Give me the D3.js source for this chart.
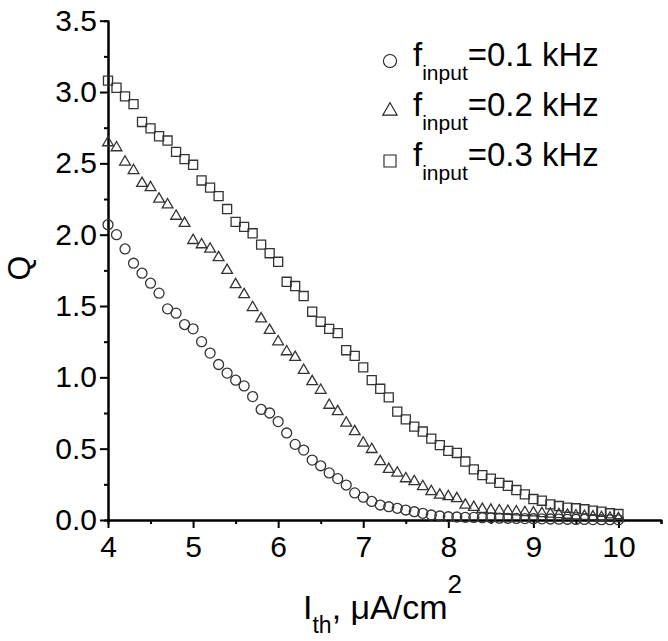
<!DOCTYPE html>
<html>
<head>
<meta charset="utf-8">
<script src="https://cdn.jsdelivr.net/npm/d3@7"></script>
<style>
  body { margin: 0; background: #fff; }
  text { font-family: "Liberation Sans", Arial, sans-serif; fill: #000; }
</style>
</head>
<body>
<svg width="668" height="641"></svg>
<script>
var svg = d3.select('svg');

// threshold current, uA/cm^2
var ith = [4.0, 4.1, 4.2, 4.3, 4.4, 4.5, 4.6, 4.7, 4.8, 4.9,
           5.0, 5.1, 5.2, 5.3, 5.4, 5.5, 5.6, 5.7, 5.8, 5.9,
           6.0, 6.1, 6.2, 6.3, 6.4, 6.5, 6.6, 6.7, 6.8, 6.9,
           7.0, 7.1, 7.2, 7.3, 7.4, 7.5, 7.6, 7.7, 7.8, 7.9,
           8.0, 8.1, 8.2, 8.3, 8.4, 8.5, 8.6, 8.7, 8.8, 8.9,
           9.0, 9.1, 9.2, 9.3, 9.4, 9.5, 9.6, 9.7, 9.8, 9.9, 10.0];

var q01 = [2.07, 2.00, 1.90, 1.80, 1.73, 1.66, 1.59, 1.48, 1.45, 1.37,
           1.34, 1.25, 1.17, 1.09, 1.03, 0.98, 0.94, 0.865, 0.775, 0.75,
           0.69, 0.61, 0.53, 0.49, 0.42, 0.38, 0.33, 0.29, 0.245, 0.19,
           0.16, 0.13, 0.105, 0.093, 0.082, 0.07, 0.058, 0.047, 0.035, 0.028,
           0.023, 0.021, 0.019, 0.018, 0.016, 0.015, 0.013, 0.012, 0.011, 0.010,
           0.009, 0.008, 0.007, 0.006, 0.005, 0.004, 0.004, 0.003, 0.002, 0.002, 0.001];

var q02 = [2.645, 2.61, 2.51, 2.45, 2.36, 2.33, 2.25, 2.21, 2.13, 2.08,
           1.96, 1.93, 1.90, 1.84, 1.75, 1.65, 1.58, 1.49, 1.41, 1.33,
           1.25, 1.18, 1.14, 1.05, 0.97, 0.91, 0.805, 0.76, 0.68, 0.62,
           0.54, 0.495, 0.41, 0.355, 0.33, 0.29, 0.27, 0.235, 0.20, 0.175,
           0.165, 0.15, 0.105, 0.089, 0.075, 0.07, 0.065, 0.062, 0.058, 0.053,
           0.05, 0.046, 0.042, 0.038, 0.034, 0.03, 0.026, 0.022, 0.018, 0.014, 0.01];

var q03 = [3.08, 3.03, 2.97, 2.915, 2.79, 2.745, 2.69, 2.66, 2.58, 2.53,
           2.49, 2.38, 2.33, 2.27, 2.18, 2.09, 2.055, 2.01, 1.93, 1.87,
           1.81, 1.67, 1.64, 1.57, 1.46, 1.39, 1.34, 1.31, 1.19, 1.15,
           1.07, 0.98, 0.92, 0.86, 0.76, 0.705, 0.655, 0.62, 0.57, 0.525,
           0.485, 0.47, 0.41, 0.355, 0.315, 0.29, 0.26, 0.24, 0.21, 0.18,
           0.147, 0.135, 0.11, 0.098, 0.086, 0.082, 0.075, 0.065, 0.058, 0.047, 0.042];

var legendLabels = ['=0.1 kHz', '=0.2 kHz', '=0.3 kHz'];
var xTicks = [4, 5, 6, 7, 8, 9, 10];
var yTicks = [0, 0.5, 1.0, 1.5, 2.0, 2.5, 3.0, 3.5];

var x = d3.scaleLinear().domain([4, 10.5]).range([108, 661]);
var y = d3.scaleLinear().domain([0, 3.5]).range([520, 20.7]);

var series = [
  {values: q01, type: d3.symbolCircle, size: 78, lsize: 135},
  {values: q02, type: d3.symbolTriangle, size: 50, lsize: 90},
  {values: q03, type: d3.symbolSquare, size: 82, lsize: 145}
];

// minor ticks
svg.append('g')
  .attr('transform', 'translate(0,520)')
  .call(d3.axisBottom(x).tickValues([4.5, 5.5, 6.5, 7.5, 8.5, 9.5, 10.5]).tickSize(4).tickFormat(''));
svg.append('g')
  .attr('transform', 'translate(108,0)')
  .call(d3.axisLeft(y).tickValues([0.25, 0.75, 1.25, 1.75, 2.25, 2.75, 3.25]).tickSize(4).tickFormat(''));

// major ticks
var xAxis = svg.append('g')
  .attr('transform', 'translate(0,520)')
  .call(d3.axisBottom(x).tickValues(xTicks).tickSize(8).tickSizeOuter(0).tickPadding(8)
    .tickFormat(d3.format('d')));
var yAxis = svg.append('g')
  .attr('transform', 'translate(108,0)')
  .call(d3.axisLeft(y).tickValues(yTicks).tickSize(8).tickSizeOuter(0).tickPadding(3)
    .tickFormat(d3.format('.1f')));

svg.selectAll('.domain').attr('stroke', '#000').attr('stroke-width', 2);
svg.selectAll('.tick line').attr('stroke', '#000').attr('stroke-width', 2);
xAxis.selectAll('text').attr('font-size', 30).attr('font-family', '"Liberation Sans", Arial, sans-serif');
yAxis.selectAll('text').attr('font-size', 30).attr('font-family', '"Liberation Sans", Arial, sans-serif');

// markers
series.forEach(function(s) {
  svg.append('g').selectAll('path')
    .data(s.values)
    .enter()
    .append('path')
    .attr('d', d3.symbol().type(s.type).size(s.size))
    .attr('transform', function(d, i) {
      return 'translate(' + x(ith[i]) + ',' + y(d) + ')';
    })
    .attr('fill', 'none')
    .attr('stroke', '#333')
    .attr('stroke-width', 1.3);
});

// legend
var legend = svg.append('g');
series.forEach(function(s, i) {
  var by = 66 + i * 50;
  legend.append('path')
    .attr('d', d3.symbol().type(s.type).size(s.lsize))
    .attr('transform', 'translate(390,' + (by - 5) + ')')
    .attr('fill', 'none')
    .attr('stroke', '#222')
    .attr('stroke-width', 1.1);
  var t = legend.append('text').attr('x', 413).attr('y', by).attr('font-size', 33);
  t.append('tspan').text('f');
  t.append('tspan').attr('font-size', 21).attr('dy', 14).text('input');
  t.append('tspan').attr('dy', -14).text(legendLabels[i]);
});

// axis titles
svg.append('text')
  .attr('transform', 'translate(30,268) rotate(-90)')
  .attr('text-anchor', 'middle')
  .attr('font-size', 32)
  .text('Q');

var xt = svg.append('text').attr('x', 303).attr('y', 619).attr('font-size', 34);
xt.append('tspan').text('I');
xt.append('tspan').attr('font-size', 23).attr('dy', 14).text('th');
xt.append('tspan').attr('dy', -14).text(', \u03bcA/cm');
xt.append('tspan').attr('font-size', 26).attr('dy', -26).text('2');
</script>
</body>
</html>
